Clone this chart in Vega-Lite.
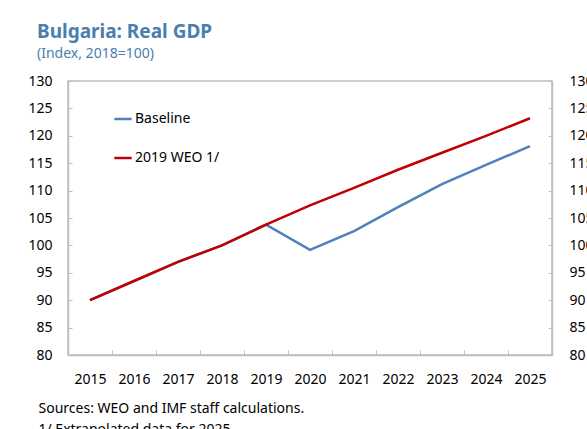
{
  "$schema": "https://vega.github.io/schema/vega-lite/v6.json",
  "width": 484,
  "height": 274,
  "autosize": {"type": "none"},
  "padding": {"left": 68, "top": 81, "right": 35, "bottom": 74},
  "config": {
    "font": "Noto Sans",
    "view": {"stroke": "#bfbfbf", "strokeWidth": 1.5},
    "axis": {"labelFont": "Noto Sans", "labelFontSize": 14, "labelColor": "#000000", "grid": false, "domainColor": "#bfbfbf", "tickColor": "#bfbfbf", "domainWidth": 1.5}
  },
  "title": {
    "text": "Bulgaria: Real GDP",
    "subtitle": "(Index, 2018=100)",
    "anchor": "start",
    "frame": "group",
    "dx": -31,
    "offset": 13,
    "font": "Noto Sans",
    "fontSize": 19,
    "fontWeight": "bold",
    "color": "#4A7EAD",
    "subtitleFont": "Noto Sans",
    "subtitleFontSize": 14,
    "subtitleColor": "#4A7EAD",
    "subtitlePadding": 5
  },
  "data": {
    "values": [
      {"year": "2015", "series": "Baseline", "value": 90.0},
      {"year": "2016", "series": "Baseline", "value": 93.5},
      {"year": "2017", "series": "Baseline", "value": 97.0},
      {"year": "2018", "series": "Baseline", "value": 100.0},
      {"year": "2019", "series": "Baseline", "value": 103.8},
      {"year": "2020", "series": "Baseline", "value": 99.2},
      {"year": "2021", "series": "Baseline", "value": 102.6},
      {"year": "2022", "series": "Baseline", "value": 107.0},
      {"year": "2023", "series": "Baseline", "value": 111.2},
      {"year": "2024", "series": "Baseline", "value": 114.7},
      {"year": "2025", "series": "Baseline", "value": 118.1},
      {"year": "2015", "series": "2019 WEO 1/", "value": 90.0},
      {"year": "2016", "series": "2019 WEO 1/", "value": 93.5},
      {"year": "2017", "series": "2019 WEO 1/", "value": 97.0},
      {"year": "2018", "series": "2019 WEO 1/", "value": 100.0},
      {"year": "2019", "series": "2019 WEO 1/", "value": 103.8},
      {"year": "2020", "series": "2019 WEO 1/", "value": 107.3},
      {"year": "2021", "series": "2019 WEO 1/", "value": 110.5},
      {"year": "2022", "series": "2019 WEO 1/", "value": 113.8},
      {"year": "2023", "series": "2019 WEO 1/", "value": 116.9},
      {"year": "2024", "series": "2019 WEO 1/", "value": 120.0},
      {"year": "2025", "series": "2019 WEO 1/", "value": 123.2}
    ]
  },
  "encoding": {
    "x": {
      "field": "year",
      "type": "ordinal",
      "scale": {"paddingInner": 0, "paddingOuter": 0},
      "axis": {
        "labelAngle": 0,
        "tickBand": "extent",
        "tickSize": -5,
        "labelPadding": 22,
        "title": ["Sources: WEO and IMF staff calculations.", "1/ Extrapolated data for 2025."],
        "titleFont": "Noto Sans",
        "titleFontSize": 14,
        "titleFontWeight": "normal",
        "titleColor": "#000000",
        "titleAnchor": "start",
        "titleAlign": "left",
        "titleBaseline": "alphabetic",
        "titleX": -30,
        "titleY": 57,
        "titleLineHeight": 21
      }
    }
  },
  "layer": [
    {
      "mark": {"type": "line", "strokeWidth": 2.5},
      "encoding": {
        "y": {
          "field": "value",
          "type": "quantitative",
          "scale": {"domain": [80, 130], "nice": false, "zero": false},
          "axis": {"values": [80, 85, 90, 95, 100, 105, 110, 115, 120, 125, 130], "title": null, "tickSize": -4, "labelPadding": 20, "orient": "left"}
        },
        "color": {
          "field": "series",
          "type": "nominal",
          "sort": ["Baseline", "2019 WEO 1/"],
          "scale": {"domain": ["Baseline", "2019 WEO 1/"], "range": ["#4F81BD", "#C00000"]},
          "legend": {
            "title": null,
            "orient": "none",
            "legendX": 45,
            "legendY": 28,
            "symbolType": "stroke",
            "symbolSize": 300,
            "symbolStrokeWidth": 2.5,
            "labelFont": "Noto Sans",
            "labelFontSize": 14,
            "labelColor": "#000000",
            "labelOffset": 2,
            "rowPadding": 22
          }
        },
        "order": {"field": "series", "sort": "descending"}
      }
    },
    {
      "mark": {"type": "line", "opacity": 0},
      "encoding": {
        "y": {
          "field": "value",
          "type": "quantitative",
          "scale": {"domain": [80, 130], "nice": false, "zero": false},
          "axis": {"values": [80, 85, 90, 95, 100, 105, 110, 115, 120, 125, 130], "title": null, "tickSize": -4, "labelPadding": 21, "orient": "right"}
        },
        "detail": {"field": "series"}
      }
    }
  ],
  "resolve": {"scale": {"y": "independent"}}
}
